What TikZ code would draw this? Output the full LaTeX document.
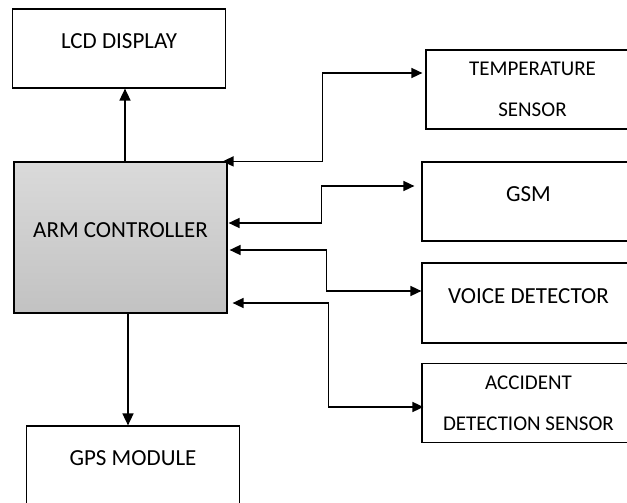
\documentclass[tikz,border=0pt]{standalone}
\usepackage{fontspec}
\setmainfont{Carlito}
\usetikzlibrary{arrows.meta}
\definecolor{armtop}{HTML}{DADADA}
\definecolor{armbot}{HTML}{C2C2C2}

\begin{document}
\begin{tikzpicture}[x=1pt, y=-1pt,
  blk/.style={draw, line width=1.2pt, minimum width=213pt, minimum height=79pt, inner sep=0pt,
    font=\fontsize{23}{28}\selectfont, text depth=14pt},
  blktwo/.style={draw, line width=1.2pt, minimum width=213pt, minimum height=79pt, inner sep=0pt,
    align=center, font=\fontsize{21}{41}\selectfont},
  arr/.style={line width=1.6pt, -{Triangle[length=12pt,width=11pt]}},
  link/.style={line width=1.6pt, {Triangle[length=11pt,width=10pt]}-{Triangle[length=11pt,width=10pt]}}]
  \useasboundingbox (0,0) rectangle (627,503);
  \clip (0,0) rectangle (627,503);

  \node (lcd) [blk] at (119,48.5) {LCD DISPLAY};
  \node (arm) [blk, minimum height=151pt, top color=armtop, bottom color=armbot] at (120.5,237.5) {ARM CONTROLLER};
  \node (gps) [blk] at (133,465.5) {GPS MODULE};

  \node (temp) [blktwo] at (532.5,89.5) {TEMPERATURE\\SENSOR};
  \node (gsm) [blk] at (528.5,201.5) {GSM};
  \node (voice) [blk, minimum height=80pt] at (528.5,303) {VOICE DETECTOR};
  \node (acc) [blktwo] at (528.5,403) {ACCIDENT\\DETECTION SENSOR};

  \draw[arr] ([xshift=4.5pt]arm.north) -- ([xshift=4.5pt]arm.north |- lcd.south);
  \draw[arr] ([xshift=7.5pt]arm.south) -- ([xshift=7.5pt]arm.south |- gps.north);

  \draw[link] ([xshift=-5pt]arm.north east) -- ++(100,0) |- ([xshift=-3pt,yshift=16.5pt]temp.west);
  \draw[link] ([xshift=1pt,yshift=14.5pt]arm.east) -- ++(93,0) |- ([xshift=-7pt,yshift=15.5pt]gsm.west);
  \draw[link] ([xshift=2pt,yshift=-12.5pt]arm.east) -- ++(97,0) |- ([yshift=12pt]voice.west);
  \draw[link] ([xshift=5pt,yshift=-65.5pt]arm.east) -- ++(96,0) |- ([xshift=2pt,yshift=-4pt]acc.west);
\end{tikzpicture}
\end{document}
